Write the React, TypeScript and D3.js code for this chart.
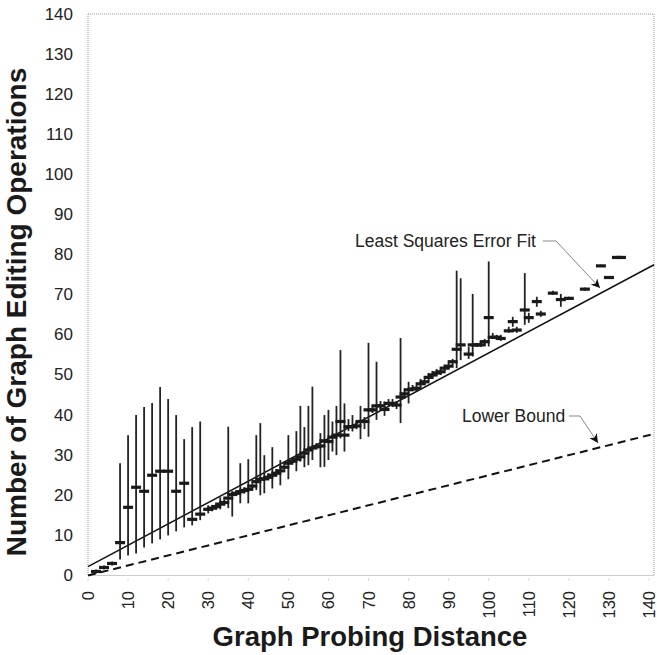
import React from "react";
import * as d3 from "d3";

const distances = [2,4,6,8,10,12,14,16,18,20,22,24,26,28,30,31,32,33,34,35,36,37,38,39,40,41,42,43,44,45,46,47,48,49,50,51,52,53,54,55,56,57,58,59,60,61,62,63,64,65,66,67,68,69,70,71,72,73,74,75,76,77,78,79,80,81,82,83,84,85,86,87,88,89,90,91,92,93,95,96,97,98,99,100,101,102,103,105,106,107,109,110,112,113,116,118,120,124,128,130,132,133];
const means = [1,2,3,8.2,17,22,21,25,26,26,21,23,14,15.3,16.5,16.8,17.2,17.8,18.2,19.3,20.2,20.5,20.9,21.2,21.5,22.3,23.4,24,24.1,24.5,25,25.5,26.1,27,28,28.5,29,29.6,30.5,31.3,31.8,32.1,32.3,33.6,33.4,34.5,35,38.4,35,37.1,37.1,37.3,38.4,38.4,41.3,41.3,42.3,42.3,41.4,42.9,42.9,42.5,44.5,45.3,46.3,46.5,46.7,47.8,48.3,49.4,50,50.5,50.8,51.7,52.2,53.3,56.4,57.5,55.2,57.5,57.5,57.5,58.3,64.3,59.4,59.4,59.1,61,63.3,61.2,66.2,64.3,68.3,65.2,70.4,68.8,69.1,71.4,77.2,74.3,79.3,79.3];
const lows = [0.5,1.5,2.5,4,5,5.5,7,8,9,10,11,12,12.5,13.8,15.5,16,16.5,16.5,17.5,16.8,14.7,20,18,20.5,18,21.5,21.3,20,20.5,24,21.7,25,22.5,26.5,24,28,26,28.4,27,27.5,28.8,31.5,27,27.1,28.8,30.9,30,34.2,30.9,36,35.9,36.5,34,36.5,34.6,40.5,38.8,41.5,39.8,42,42,41.5,38,44.5,42.9,46,46,47,47.5,48.5,49.5,50,50,51,51.5,52.5,51.7,53.7,54,54.6,57,57,57.5,57.1,59,59,58.5,60.5,62,60.5,62.5,63,67,64.5,70,67,68.7,71,77,74,79,79];
const highs = [1.5,2.5,3.5,28,35,40,42,43,47,44,40,34,37,38.4,17.5,17.5,18,19.5,19,37.1,21,21,28,22,29,23,35,38,30,25.5,32,26.5,28.8,28,35,29.5,36,42.3,37,42.3,47.1,33,35.5,40,41.3,38.4,42.3,56.2,42.9,39,40,38.5,42.3,39.5,58,42.5,53.3,43.5,43.4,44,44,43.5,59.2,46,48.3,47.5,47.5,49,49,50.5,51,51.5,51.5,52.5,53,54,76,74.1,57,70.2,58,58.5,59,78.3,60.5,60,60,62,64.5,62,75.4,65.5,69.5,66,71,70.2,69.5,71.8,77.5,74.6,79.6,79.6];

const xTicks = [0,10,20,30,40,50,60,70,80,90,100,110,120,130,140];
const yTicks = [0,10,20,30,40,50,60,70,80,90,100,110,120,130,140];
const fitIntercept = 2.2;
const fitSlope = 0.533;
const lowerBoundSlope = 0.25;

const W = 657, H = 655;
const FONT = "'Liberation Sans', Arial, Helvetica, sans-serif";

export default function App() {
  const x = d3.scaleLinear().domain([0, 140]).range([88, 649]);
  const y = d3.scaleLinear().domain([0, 140]).range([575.5, 14]);
  const plotL = 88, plotR = 654, plotT = 14, plotB = 575.5;
  const xMax = x.invert(plotR);
  const fitPath = d3.line<number>().x(d => x(d)).y(d => y(fitIntercept + fitSlope * d))([0, xMax]);
  const lbPath = d3.line<number>().x(d => x(d)).y(d => y(lowerBoundSlope * d))([0, xMax]);

  return (
    <svg width={W} height={H} style={{ position: "absolute", left: 0, top: 0, background: "#fff" }} fontFamily={FONT}>
      <defs>
        <marker id="arr" viewBox="0 0 10 10" refX="10" refY="5" markerWidth="9" markerHeight="9" orient="auto-start-reverse" markerUnits="userSpaceOnUse">
          <path d="M0,0 L10,5 L0,10 L3,5 z" fill="#111" />
        </marker>
      </defs>
      <rect x={plotL} y={plotT} width={plotR - plotL} height={plotB - plotT} fill="none" stroke="#999" strokeWidth={1} strokeDasharray="1,1" />
      {xTicks.map(t => (
        <line key={"xt" + t} x1={x(t)} x2={x(t)} y1={plotB + 3} y2={plotB + 5} stroke="#ccc" strokeWidth={1} />
      ))}
      {yTicks.map(t => (
        <text key={"yl" + t} x={73} y={y(t)} textAnchor="end" dominantBaseline="central" fontSize={17} fill="#222">{t}</text>
      ))}
      {xTicks.map(t => (
        <text key={"xl" + t} transform={`translate(${x(t)},${591}) rotate(-90)`} textAnchor="end" dominantBaseline="central" fontSize={16.5} fill="#222">{t}</text>
      ))}
      <path d={lbPath || ""} fill="none" stroke="#111" strokeWidth={2} strokeDasharray="8,5" />
      <path d={fitPath || ""} fill="none" stroke="#111" strokeWidth={1.5} />
      {distances.map((d, i) => (
        <line key={"b" + i} x1={x(d)} x2={x(d)} y1={y(lows[i])} y2={y(highs[i])} stroke="#222" strokeWidth={1.8} />
      ))}
      {distances.map((d, i) => (
        <rect key={"m" + i} x={x(d) - 5} y={y(means[i]) - 1.6} width={10} height={3.2} fill="#1a1a1a" />
      ))}
      <text x={355} y={241} dominantBaseline="central" fontSize={17.5} fill="#222">Least Squares Error Fit</text>
      <polyline points="543,241 556,241 600,288" fill="none" stroke="#888" strokeWidth={1} markerEnd="url(#arr)" />
      <text x={462} y={416} dominantBaseline="central" fontSize={17.5} fill="#222">Lower Bound</text>
      <polyline points="569,416 580,416 598,443" fill="none" stroke="#888" strokeWidth={1} markerEnd="url(#arr)" />
      <text transform={`translate(16,${312}) rotate(-90)`} textAnchor="middle" dominantBaseline="central" fontSize={28} fontWeight="bold" fill="#1a1a1a">Number of Graph Editing Operations</text>
      <text x={370} y={646} textAnchor="middle" fontSize={27.5} fontWeight="bold" fill="#1a1a1a">Graph Probing Distance</text>
    </svg>
  );
}
